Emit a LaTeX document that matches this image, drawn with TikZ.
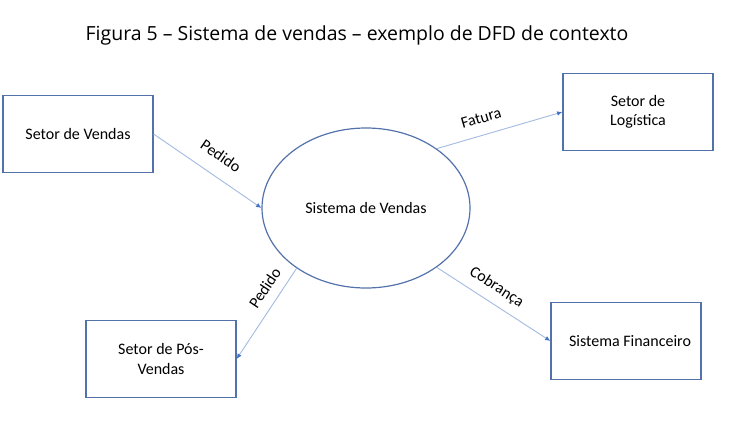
\documentclass[tikz,border=0pt]{standalone}
\usepackage{fontspec}
\setmainfont{Carlito}
\newfontfamily\titlefont{Open Sans}
\usetikzlibrary{shapes.geometric,arrows.meta}
\definecolor{boxline}{RGB}{84,114,170}
\definecolor{flowline}{RGB}{165,188,226}
\definecolor{tipblue}{RGB}{68,114,196}
\begin{document}
\begin{tikzpicture}[x=0.75pt, y=-0.75pt, font=\fontsize{12}{14.5}\selectfont,
  entity/.style={rectangle, draw=boxline, line width=0.9pt, minimum width=112.5pt,
                 minimum height=58pt, align=center},
  flow/.style={draw=flowline, line width=0.7pt, -{Latex[length=4pt, width=3.5pt, color=tipblue]}}]
\useasboundingbox (0,0) rectangle (730,439);

\node[font=\titlefont\fontsize{14.6}{16}\selectfont] (title) at (357,35)
  {Figura 5 \textendash{} Sistema de vendas \textendash{} exemplo de DFD de contexto};

\node[entity](vendas) at (78,134) {Setor de Vendas};
\node[entity](logistica) at (638,112) {Setor de\\Logística};
\node[entity](posvendas) at (161,359) {Setor de Pós-\\Vendas};
\node[entity](financeiro) at (626,341) {\hspace*{6pt}Sistema Financeiro};

\node[ellipse, draw=boxline, line width=0.9pt, minimum width=156pt,
      minimum height=120pt](sistema) at (366,208) {Sistema de Vendas};

\draw[flow] (vendas.east) -- (sistema.west)
  node[pos=0.52, sloped, above=7pt] {Pedido};
\draw[flow] (sistema.40) -- (logistica.west)
  node[pos=0.39, sloped, above=5pt] {Fatura};
\draw[flow] (sistema.221) -- (posvendas.east)
  node[pos=0.31, sloped, above=4pt] {Pedido};
\draw[flow] (sistema.-40) -- (financeiro.west)
  node[pos=0.45, sloped, above=3pt] {Cobrança};

\end{tikzpicture}
\end{document}
